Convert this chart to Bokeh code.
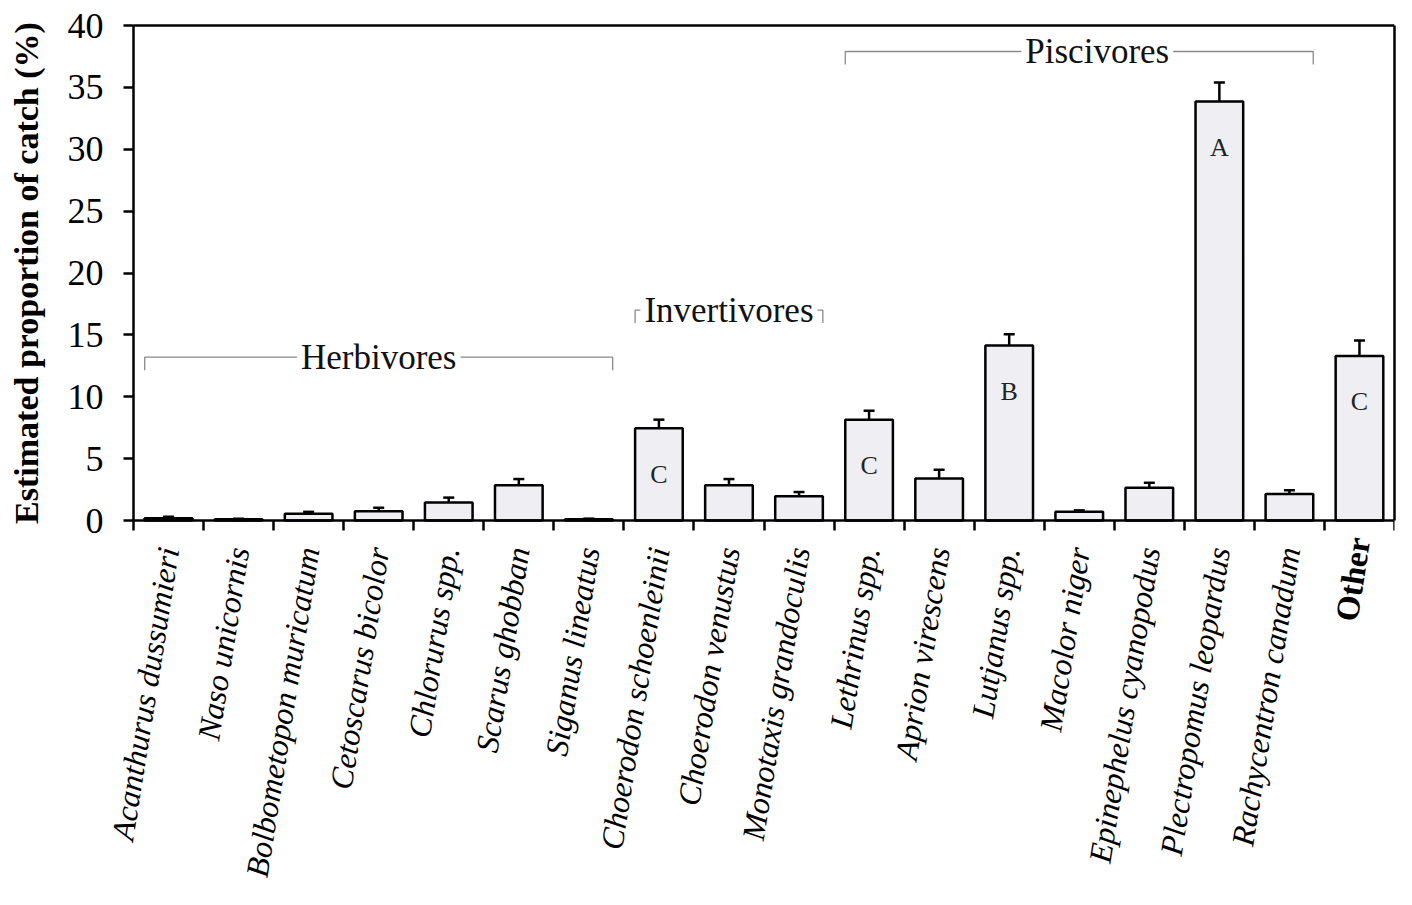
import numpy as np
from bokeh.plotting import figure
from bokeh.models import (Range1d, FixedTicker, CustomJSTickFormatter, ColumnDataSource,
                          Whisker, TeeHead, Label, LinearAxis)
from bokeh.core.properties import value
from bokeh.embed import file_html
from bokeh.resources import INLINE

# ---------------- data ----------------
species = [
    "Acanthurus dussumieri", "Naso unicornis", "Bolbometopon muricatum",
    "Cetoscarus bicolor", "Chlorurus spp.", "Scarus ghobban", "Siganus lineatus",
    "Choerodon schoenleinii", "Choerodon venustus", "Monotaxis grandoculis",
    "Lethrinus spp.", "Aprion virescens", "Lutjanus spp.", "Macolor niger",
    "Epinephelus cyanopodus", "Plectropomus leopardus", "Rachycentron canadum", "Other",
]
proportion = [0.18, 0.1, 0.55, 0.75, 1.45, 2.85, 0.1, 7.45, 2.85, 1.95,
              8.15, 3.4, 14.15, 0.7, 2.65, 33.85, 2.15, 13.3]
std_error = [0.12, 0.05, 0.15, 0.28, 0.4, 0.5, 0.05, 0.7, 0.5, 0.35,
             0.72, 0.7, 0.9, 0.12, 0.4, 1.55, 0.3, 1.25]
letters = ["", "", "", "", "", "", "", "C", "", "",
           "C", "", "B", "", "", "A", "", "C"]
group_names = ["Herbivores", "Invertivores", "Piscivores"]
group_first = [0, 7, 10]
group_last = [6, 9, 16]
y_ticks = [0, 5, 10, 15, 20, 25, 30, 35, 40]
y_title = "Estimated proportion of catch (%)"

# ---------------- layout / style ----------------
FONT = "Liberation Serif"
W, H = 1396, 889
FRAME_L, FRAME_T, FRAME_R = 5, 2, 1394     # drawing area (px); axes sit inside it
AXIS_X_PX, TOP_PX, ZERO_PX = 133, 25, 520  # where x=0, y=40, y=0 fall (px)
BAR_W = 0.68
bracket_level = [13.2, 17.0, 37.9]
bracket_drop = 1.05
label_xoff = [0, 0, 18]
ANGLE = np.deg2rad(81)
LW = 2.5

n = len(species)
y_max = y_ticks[-1]
px_x = (FRAME_R - AXIS_X_PX) / n
px_y = (ZERO_PX - TOP_PX) / y_max
x_start = -(AXIS_X_PX - FRAME_L) / px_x
y_end = y_max + (TOP_PX - FRAME_T) / px_y
y_start = -(H - ZERO_PX) / px_y

x = np.arange(n) + 0.5
upper = [v + e for v, e in zip(proportion, std_error)]
lower = [v - e for v, e in zip(proportion, std_error)]

p = figure(width=W, height=H, output_backend="svg", toolbar_location=None,
           x_range=Range1d(x_start, n), y_range=Range1d(y_start, y_end),
           min_border_left=FRAME_L, min_border_right=W - FRAME_R,
           min_border_top=FRAME_T, min_border_bottom=0)
p.xgrid.visible = False
p.ygrid.visible = False
p.outline_line_color = None
p.background_fill_color = "white"
p.border_fill_color = "white"

src = ColumnDataSource(dict(x=x, top=proportion, upper=upper, lower=lower, letter=letters))
p.vbar(x="x", top="top", bottom=0, width=BAR_W, source=src,
       fill_color="#eeeef3", line_color="black", line_width=LW)

whisk = Whisker(base="x", upper="upper", lower="lower", source=src,
                line_color="black", line_width=LW,
                upper_head=TeeHead(size=11, line_color="black", line_width=LW),
                lower_head=TeeHead(size=11, line_color="black", line_width=LW))
p.add_layout(whisk)

p.text(x="x", y="top", text="letter", source=src, text_font=value(FONT),
       text_font_size="26px", text_align="center", text_baseline="middle",
       y_offset=46, text_color="#222222")

# group brackets
for name, f, l, lev, xo in zip(group_names, group_first, group_last, bracket_level, label_xoff):
    xl = x[f] - BAR_W / 2
    xr = x[l] + BAR_W / 2
    p.line(x=[xl, xl, xr, xr], y=[lev - bracket_drop, lev, lev, lev - bracket_drop],
           line_color="#8a8a8a", line_width=1.3)
    p.add_layout(Label(x=(xl + xr) / 2, y=lev, text=name, x_offset=xo,
                       text_font=FONT, text_font_size="35px", text_align="center",
                       text_baseline="middle", text_color="#111111",
                       background_fill_color="white", padding=4))

# x axis, drawn at y = 0
axis_names = [s if s != "Other" else "" for s in species]
xa = p.xaxis[0]
xa.fixed_location = 0
xa.bounds = (0, n)
xa.ticker = FixedTicker(ticks=list(x), minor_ticks=list(range(n + 1)))
xa.formatter = CustomJSTickFormatter(args=dict(names=axis_names), code="""
    const i = Math.round(tick - 0.5);
    return (i >= 0 && i < names.length) ? names[i] : "";
""")
xa.major_tick_out = 0
xa.major_tick_in = 0
xa.minor_tick_out = 10
xa.minor_tick_in = 0
xa.minor_tick_line_width = LW
xa.minor_tick_line_color = "black"
xa.axis_line_width = LW
xa.axis_line_color = "black"
xa.major_label_orientation = ANGLE
xa.major_label_standoff = 17
xa.major_label_text_font = FONT
xa.major_label_text_font_style = "italic"
xa.major_label_text_font_size = "32px"
xa.major_label_text_color = "black"

# "Other" is set upright and bold, as in the original
for i, s in enumerate(species):
    if s == "Other":
        p.add_layout(Label(x=x[i], y=0, text=s, angle=ANGLE, y_offset=-17,
                           text_font=FONT, text_font_style="bold", text_font_size="33px",
                           text_align="right", text_baseline="middle", text_color="black"))

# y axis, drawn at x = 0
ya = p.yaxis[0]
ya.fixed_location = 0
ya.bounds = (0, y_max)
ya.ticker = FixedTicker(ticks=y_ticks)
ya.major_tick_out = 10
ya.major_tick_in = 0
ya.minor_tick_out = 0
ya.minor_tick_in = 0
ya.major_tick_line_width = LW
ya.axis_line_width = LW
ya.major_label_standoff = 20
ya.major_label_text_font = FONT
ya.major_label_text_font_size = "36px"
ya.major_label_text_color = "black"

p.add_layout(Label(x=0, y=y_max / 2, text=y_title, angle=np.pi / 2, x_offset=-107,
                   text_font=FONT, text_font_style="bold", text_font_size="34px",
                   text_align="center", text_baseline="middle", text_color="black"))

# top and right border of the plot box
top_border = LinearAxis(ticker=FixedTicker(ticks=[]), fixed_location=y_max, bounds=(0, n),
                        axis_line_width=LW, major_tick_out=0, major_tick_in=0,
                        minor_tick_out=0, minor_tick_in=0)
right_border = LinearAxis(ticker=FixedTicker(ticks=[]), bounds=(0, y_max), axis_line_width=LW,
                          major_tick_out=0, major_tick_in=0, minor_tick_out=0, minor_tick_in=0)
p.add_layout(top_border, "above")
p.add_layout(right_border, "right")

open("out.html", "w").write(file_html(p, INLINE))
